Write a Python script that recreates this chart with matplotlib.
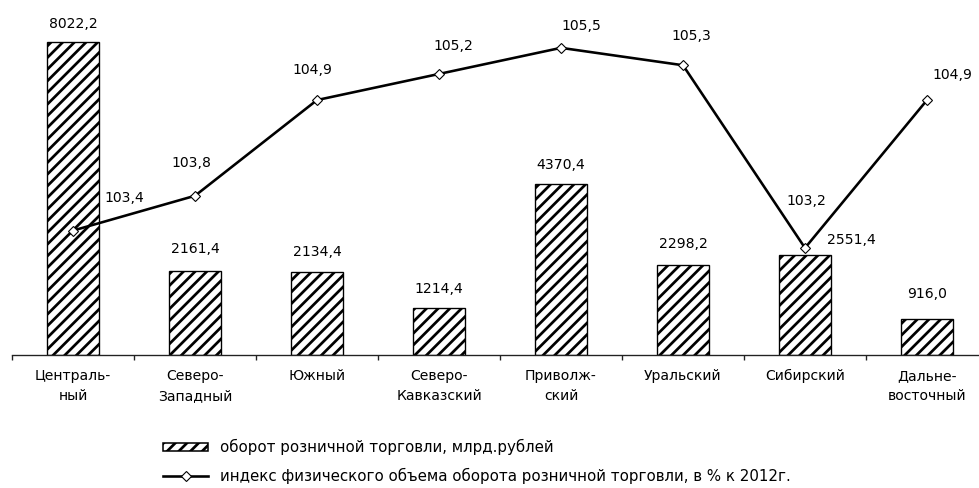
import matplotlib
matplotlib.use("Agg")
import matplotlib.pyplot as plt
from matplotlib.patches import Patch
from matplotlib.lines import Line2D

categories = ["Централь-\nный", "Северо-\nЗападный", "Южный", "Северо-\nКавказский",
              "Приволж-\nский", "Уральский", "Сибирский", "Дальне-\nвосточный"]
turnover = [8022.2, 2161.4, 2134.4, 1214.4, 4370.4, 2298.2, 2551.4, 916.0]
index_vals = [103.4, 103.8, 104.9, 105.2, 105.5, 105.3, 103.2, 104.9]
turnover_labels = ["8022,2", "2161,4", "2134,4", "1214,4", "4370,4", "2298,2", "2551,4", "916,0"]
index_labels = ["103,4", "103,8", "104,9", "105,2", "105,5", "105,3", "103,2", "104,9"]
legend_labels = ["оборот розничной торговли, млрд.рублей",
                 "индекс физического объема оборота розничной торговли, в % к 2012г."]

DPI = 140
W, H = 979, 488
plt.rcParams['font.family'] = ['DejaVu Sans']
plt.rcParams['hatch.linewidth'] = 1.4
plt.rcParams['hatch.color'] = 'black'

def px(v):
    return v * 72.0 / DPI

fig = plt.figure(figsize=(W / DPI, H / DPI), dpi=DPI)
ax = fig.add_axes([12 / W, (H - 355) / H, 976 / W, 335 / H])
x = list(range(len(categories)))

ax.bar(x, turnover, width=0.42, facecolor='white', edgecolor='black',
       linewidth=0.7, hatch='////', zorder=2)
ax.set_xlim(-0.5, 7.5)
ax.set_ylim(0, 8586)
for s in ['left', 'right', 'top']:
    ax.spines[s].set_visible(False)
ax.spines['bottom'].set_linewidth(0.7)
ax.spines['bottom'].set_color('#222222')
ax.set_yticks([])
ax.set_xticks(x)
ax.set_xticklabels(categories, fontsize=px(14), linespacing=1.55)
ax.tick_params(axis='x', which='major', length=0, pad=px(14))
ax.set_xticks([i - 0.5 for i in range(len(categories) + 1)], minor=True)
ax.tick_params(axis='x', which='minor', length=px(5), width=0.7, color='#222222', direction='out')

bar_offsets = [(0, 18), (0, 22), (0, 20), (0, 19), (0, 19), (0, 21), (46, 15), (0, 25)]
for xi, v, lab, off in zip(x, turnover, turnover_labels, bar_offsets):
    ax.annotate(lab, (xi, v), xytext=off, textcoords='offset pixels',
                ha='center', va='center', fontsize=px(14))

ax2 = ax.twinx()
ax2.set_ylim(101.97, 105.82)
ax2.axis('off')
ax2.plot(x, index_vals, color='black', linewidth=px(2.6), marker='D',
         markersize=px(7), markerfacecolor='white', markeredgecolor='black',
         markeredgewidth=px(1.1), zorder=3)
idx_offsets = [(51, 33), (-4, 33), (-5, 30), (14, 28), (20, 22), (8, 29), (1, 47), (25, 25)]
for xi, v, lab, off in zip(x, index_vals, index_labels, idx_offsets):
    ax2.annotate(lab, (xi, v), xytext=off, textcoords='offset pixels',
                 ha='center', va='center', fontsize=px(14))

handles = [Patch(facecolor='white', edgecolor='black', hatch='////', linewidth=0.8),
           Line2D([], [], color='black', linewidth=px(2.6), marker='D', markersize=px(7),
                  markerfacecolor='white', markeredgecolor='black', markeredgewidth=px(1.1))]
fs = 15
fig.legend(handles, legend_labels, loc='upper left',
           bbox_to_anchor=(163 / W, (H - 439) / H), frameon=False,
           fontsize=px(fs), borderpad=0, borderaxespad=0,
           handlelength=45 / fs, handleheight=0.45, handletextpad=12 / fs,
           labelspacing=0.85)

fig.savefig("out.png", dpi=DPI)
